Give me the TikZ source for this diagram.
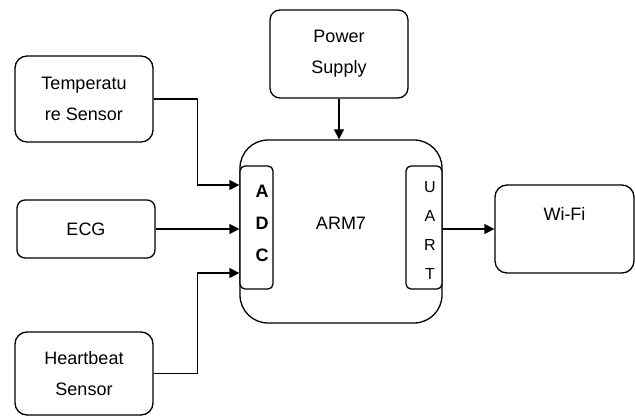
\documentclass[tikz,border=0pt]{standalone}
\usepackage{fontspec}
\setmainfont{Liberation Sans}
\usetikzlibrary{arrows.meta}
\begin{document}
\begin{tikzpicture}[x=1pt,y=-1pt,
  every node/.style={font=\fontsize{18}{31}\selectfont},
  blk/.style={draw, line width=1.3pt, rounded corners=10pt, align=center, inner sep=0pt},
  sub/.style={draw, line width=1.3pt, rounded corners=5pt, fill=white, inner sep=0pt, minimum height=123pt},
  arr/.style={line width=1.3pt, -{Triangle[length=10pt,width=10pt]}},
]
\useasboundingbox (0,0) rectangle (635,417);

\node[blk, minimum width=138pt, minimum height=88pt] (power) at (339,54) {Power\\Supply};
\node[blk, minimum width=138pt, minimum height=86pt, rounded corners=12pt] (temp) at (84,99) {Temperatu\\re Sensor};
\node[blk, minimum width=138pt, minimum height=58pt, rounded corners=8pt] (ecg) at (86,229) {ECG};
\node[blk, minimum width=138pt, minimum height=83pt, rounded corners=12pt] (heart) at (84,373.5) {Heartbeat\\Sensor};
\node[blk, minimum width=139pt, minimum height=88pt, rounded corners=12pt] (wifi) at (564.5,229) {Wi-Fi\\\mbox{}};

\node[blk, minimum width=202pt, minimum height=183pt, rounded corners=28pt] (arm) at (341,231.5) {};
\node (armtext) at (341,223) {ARM7};
\node[sub, minimum width=33pt] (adc) at (256.5,227.5) {};
\node[sub, minimum width=36pt] (uart) at (424,227.5) {};
\node[align=center, font=\fontsize{18}{32}\selectfont\bfseries] (adctext) at (262,223) {A\\D\\C};
\node[align=center, font=\fontsize{16}{29}\selectfont] (uarttext) at (430,230) {U\\A\\R\\T};

\draw[arr] (power.south) -- (power.south |- arm.north);
\draw[arr] (temp.east) -- ++(44,0) |- (adc.west |- 0,185);
\draw[arr] (ecg.east) -- (ecg.east -| adc.west);
\draw[arr] (heart.east) -- ++(44,0) |- (adc.west |- 0,273);
\draw[arr] (wifi.west -| uart.east) -- (wifi.west);
\end{tikzpicture}
\end{document}
